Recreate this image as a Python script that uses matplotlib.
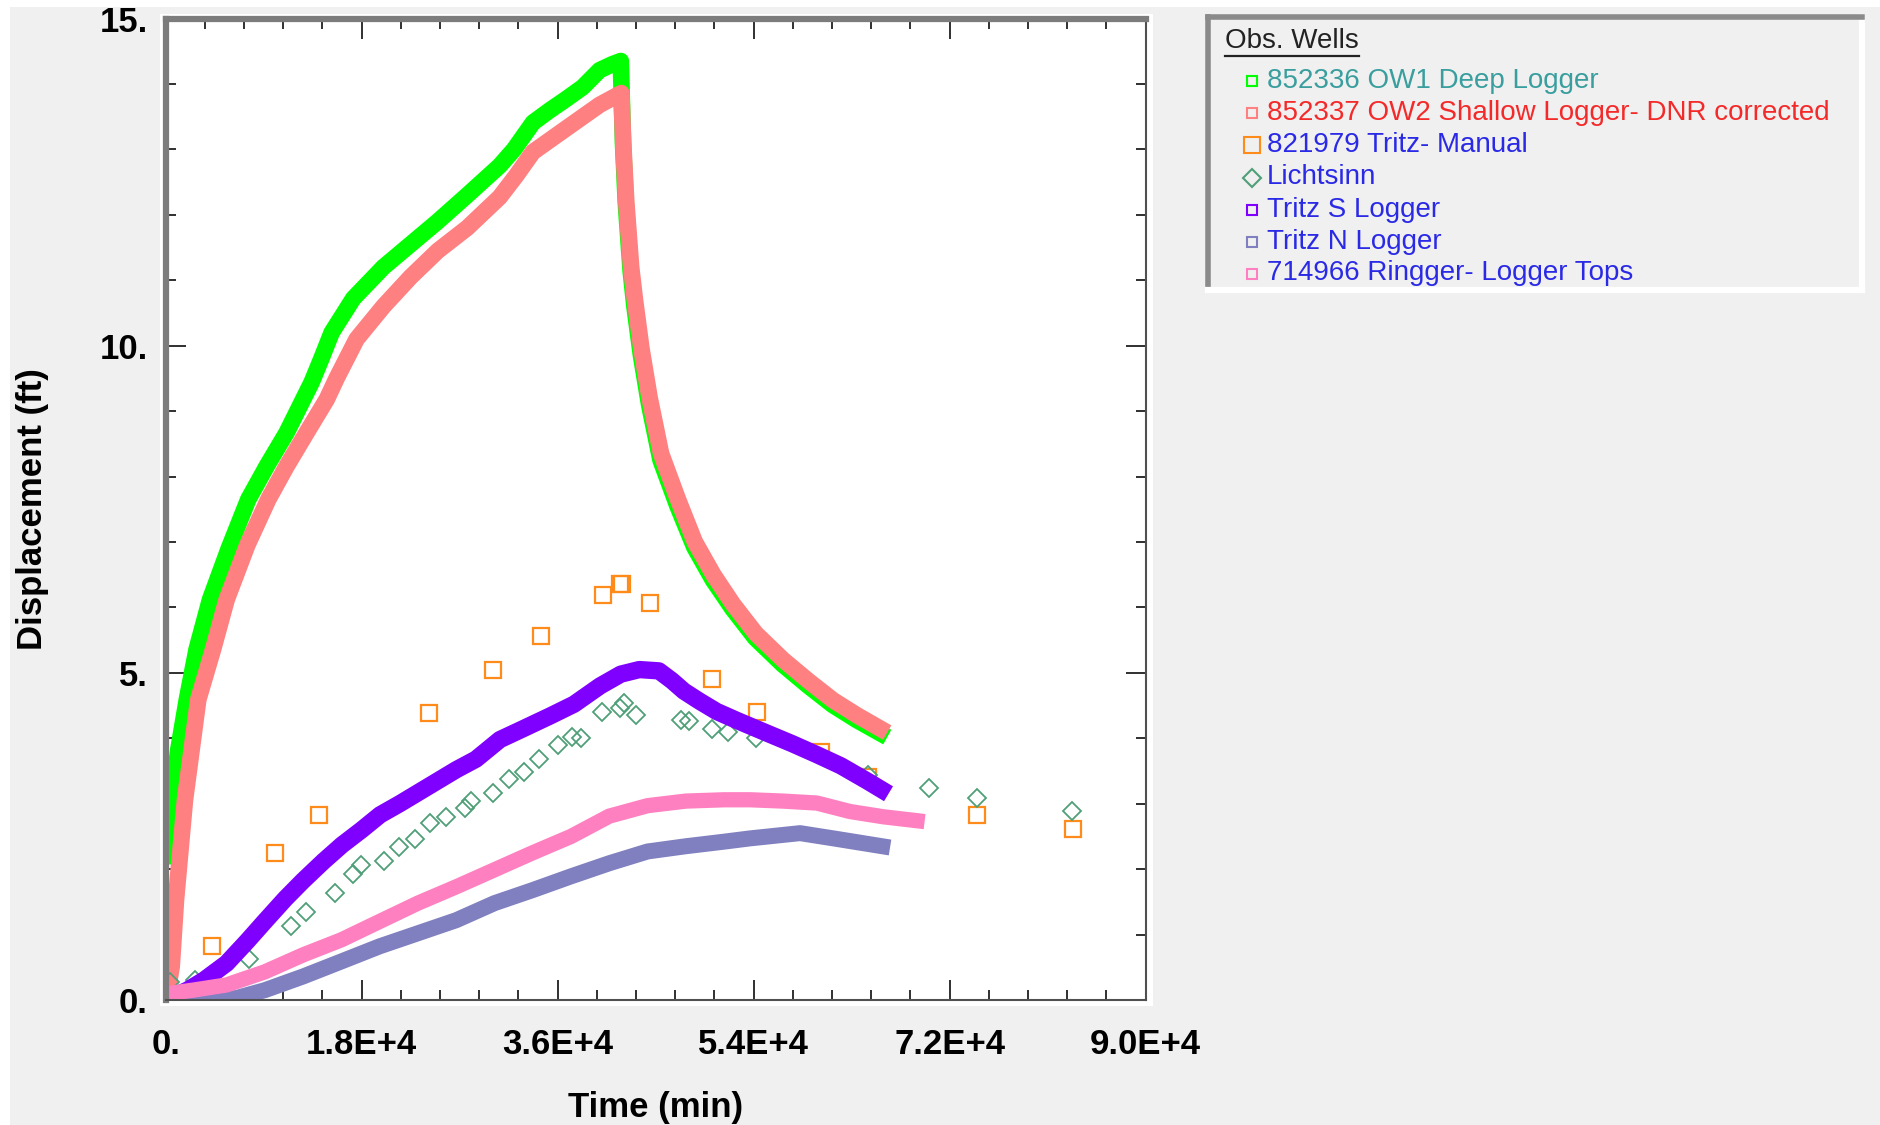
import matplotlib
matplotlib.use("Agg")
import matplotlib.pyplot as plt
from matplotlib.patches import Rectangle
from matplotlib.ticker import MultipleLocator

# ---- values (time in min, displacement in ft) ----
ow1_t = [80, 160, 560, 1170, 1960, 2850, 4080, 5800, 7590, 9290, 11110, 13410, 14300,
         15250, 17230, 20000, 22500, 25000, 27700, 30680, 32000, 33740, 35300, 36790,
         38300, 39850, 41000, 41800, 42000, 42250, 42700, 43050, 43650, 44400, 45450,
         47000, 48550, 50250, 52050, 54150, 56650, 58950, 61250, 63450, 65600]
ow1_y = [2.2, 2.6, 3.06, 3.83, 4.6, 5.36, 6.12, 6.9, 7.65, 8.16, 8.67, 9.44, 9.8,
         10.2, 10.72, 11.2, 11.55, 11.9, 12.3, 12.75, 13.0, 13.41, 13.6, 13.77,
         13.95, 14.21, 14.3, 14.35, 13.1, 12.2, 11.15, 10.6, 9.85, 9.1, 8.25,
         7.55, 6.92, 6.42, 5.98, 5.53, 5.13, 4.81, 4.51, 4.28, 4.08]

ow2_t = [100, 300, 560, 955, 1780, 3000, 4360, 5610, 7500, 9430, 11120, 12950, 14800,
         15700, 17540, 20000, 22500, 25000, 27700, 30680, 32200, 33740, 36790, 39850,
         41850, 42050, 42300, 42750, 43100, 43700, 44450, 45500, 47050, 48600, 50300,
         52100, 54200, 56700, 59000, 61300, 63500, 65600]
ow2_y = [0.05, 0.25, 0.51, 1.53, 3.06, 4.59, 5.36, 6.12, 6.95, 7.65, 8.16, 8.67, 9.18,
         9.5, 10.1, 10.6, 11.05, 11.45, 11.8, 12.27, 12.6, 12.96, 13.32, 13.68,
         13.86, 13.0, 12.2, 11.2, 10.7, 9.95, 9.2, 8.35, 7.65, 7.0, 6.5,
         6.05, 5.6, 5.2, 4.88, 4.58, 4.35, 4.15]

manual_t = [4290, 10020, 14090, 24220, 30060, 34460, 40180, 41720, 41940, 44480,
            50200, 54300, 60220, 64480, 74500, 83300]
manual_y = [0.83, 2.24, 2.83, 4.39, 5.04, 5.57, 6.19, 6.36, 6.36, 6.07,
            4.91, 4.40, 3.79, 3.41, 2.83, 2.61]

licht_t = [396, 2680, 7700, 11480, 12890, 15600, 17170, 17980, 20060, 21450, 22900,
           24300, 25780, 27470, 28060, 30030, 31570, 32900, 34310, 36060, 37360, 38170,
           40070, 41750, 42100, 43230, 47370, 48080, 50180, 51650, 54230, 64470,
           70130, 74500, 83270]
licht_y = [0.28, 0.31, 0.63, 1.13, 1.35, 1.64, 1.92, 2.07, 2.13, 2.34, 2.46,
           2.71, 2.80, 2.94, 3.04, 3.17, 3.38, 3.48, 3.69, 3.90, 4.02, 4.01,
           4.40, 4.46, 4.54, 4.36, 4.28, 4.27, 4.14, 4.09, 4.00, 3.44,
           3.24, 3.09, 2.89]

tritz_s_t = [700, 2000, 3500, 5600, 7500, 9100, 11000, 12600, 14500, 16200, 18000, 19700,
             21500, 23200, 25000, 26700, 28500, 30700, 32500, 35300, 37500, 39900, 41800,
             43500, 45300, 46500, 47600, 49000, 50600, 52500, 55200, 57500, 59800, 62000,
             64400, 65700]
tritz_s_y = [0.05, 0.15, 0.3, 0.56, 0.9, 1.2, 1.55, 1.82, 2.12, 2.37, 2.6, 2.83,
             3.0, 3.17, 3.35, 3.52, 3.68, 3.98, 4.12, 4.34, 4.52, 4.8, 4.98,
             5.05, 5.03, 4.88, 4.72, 4.57, 4.41, 4.27, 4.08, 3.92, 3.75, 3.58,
             3.35, 3.22]

tritz_n_t = [0, 3000, 6500, 9110, 12630, 16150, 19650, 23170, 26690, 30200, 33710,
             37230, 40740, 44260, 47780, 51290, 53670, 58260, 61320, 65800]
tritz_n_y = [0.0, 0.0, 0.03, 0.15, 0.36, 0.59, 0.82, 1.02, 1.22, 1.48, 1.68,
             1.89, 2.09, 2.27, 2.35, 2.42, 2.47, 2.55, 2.47, 2.35]

ringger_t = [0, 320, 2500, 5590, 9110, 12630, 16150, 19650, 23170, 26690, 30200, 33710,
             37230, 40740, 44260, 47780, 51290, 53670, 56700, 59800, 62860, 65910, 69000]
ringger_y = [0.0, 0.1, 0.15, 0.23, 0.43, 0.69, 0.92, 1.20, 1.48, 1.73, 1.99, 2.25,
             2.50, 2.81, 2.97, 3.04, 3.06, 3.06, 3.04, 3.01, 2.88, 2.80, 2.74]

legend_labels = ['852336 OW1 Deep Logger', '852337 OW2 Shallow Logger- DNR corrected',
                 '821979 Tritz- Manual', 'Lichtsinn', 'Tritz S Logger', 'Tritz N Logger',
                 '714966 Ringger- Logger Tops']
label_colors = ['#3a9e9e', '#f42a2a', '#2a2ae6', '#2a2ae6', '#2a2ae6', '#2a2ae6', '#2a2ae6']
series_colors = ['#00ff00', '#ff8080', '#ff8c1a', '#4f9f78', '#8000ff', '#8080c0', '#ff80c0']

xticks = [0, 18000, 36000, 54000, 72000, 90000]
xticklabels = ['0.', '1.8E+4', '3.6E+4', '5.4E+4', '7.2E+4', '9.0E+4']
yticks = [0, 5, 10, 15]
yticklabels = ['0.', '5.', '10.', '15.']

plt.rcParams['font.family'] = ['Liberation Sans', 'DejaVu Sans']

W, H = 1881, 1125
fig = plt.figure(figsize=(W / 100, H / 100), dpi=100, facecolor='#f0f0f0')


def fx(px):
    return px / W


def fy(py):
    return 1 - py / H


# white strips along the top/left edge and the bevel round the plot panel
for x0, y0, w, h in [(0, fy(7), 1, 7 / H),
                     (0, 0, fx(10), 1),
                     (fx(160), fy(1006), fx(1153 - 160), (1006 - 14) / H)]:
    fig.patches.append(Rectangle((x0, y0), w, h, transform=fig.transFigure,
                                 facecolor='white', edgecolor='none', zorder=-5))

ax = fig.add_axes([fx(165.6), fy(1000), fx(1145.7 - 165.6), (1000 - 18.5) / H])
ax.set_facecolor('white')

lw_kw = dict(solid_capstyle='projecting', solid_joinstyle='round')
ax.plot(ow1_t, ow1_y, color=series_colors[0], lw=12, **lw_kw)
ax.plot(ow2_t, ow2_y, color=series_colors[1], lw=12, **lw_kw)
ax.plot(manual_t, manual_y, ls='none', marker='s', ms=12, mfc='none',
        mec=series_colors[2], mew=1.6)
ax.plot(licht_t, licht_y, ls='none', marker='D', ms=9.5, mfc='none',
        mec=series_colors[3], mew=1.3)
ax.plot(tritz_s_t, tritz_s_y, color=series_colors[4], lw=12.5, **lw_kw)
ax.plot(tritz_n_t, tritz_n_y, color=series_colors[5], lw=11.5, **lw_kw)
ax.plot(ringger_t, ringger_y, color=series_colors[6], lw=11, **lw_kw)

ax.set_xlim(0, 90000)
ax.set_ylim(0, 15)
ax.set_xticks(xticks, xticklabels)
ax.set_yticks(yticks, yticklabels)
ax.xaxis.set_minor_locator(MultipleLocator(3600))
ax.yaxis.set_minor_locator(MultipleLocator(1))
ax.tick_params(which='both', direction='in', top=True, right=True, color='#303030',
               width=1.4)
ax.tick_params(which='major', length=14.5)
ax.tick_params(which='minor', length=7.2)
ax.tick_params(axis='x', which='major', pad=20)
ax.tick_params(axis='y', which='major', pad=13)
for lab in ax.get_xticklabels() + ax.get_yticklabels():
    lab.set_fontsize(25)
    lab.set_fontweight('bold')

for side in ['left', 'top']:
    ax.spines[side].set_color('#7c7c7c')
    ax.spines[side].set_linewidth(4.5)
for side in ['right', 'bottom']:
    ax.spines[side].set_color('#505050')
    ax.spines[side].set_linewidth(1.5)

fig.text(fx(655.6), fy(1108), 'Time (min)', ha='center', va='center',
         fontsize=25, fontweight='bold')
fig.text(fx(33), fy(509), 'Displacement (ft)', ha='center', va='center',
         rotation=90, fontsize=25, fontweight='bold')

# legend panel, drawn in pixel units
lax = fig.add_axes([fx(1208), fy(290), fx(1862 - 1208), (290 - 17) / H])
lax.set_xlim(1208, 1862)
lax.set_ylim(290, 17)
lax.set_facecolor('#f0f0f0')
lax.set_xticks([])
lax.set_yticks([])
for side in ['left', 'top']:
    lax.spines[side].set_color('#8a8a8a')
    lax.spines[side].set_linewidth(4)
for side in ['right', 'bottom']:
    lax.spines[side].set_color('white')
    lax.spines[side].set_linewidth(4.5)

title = lax.text(1225, 40.5, 'Obs. Wells', ha='left', va='center', fontsize=20,
                 color='#222222')

row_y = [80.5, 112.5, 145, 177.5, 210, 242.3, 273.5]
markers = ['s', 's', 's', 'D', 's', 's', 's']
msizes = [7.5, 7.5, 11, 9, 7.5, 7.5, 7.5]
for i, lab in enumerate(legend_labels):
    lax.plot([1251.6], [row_y[i]], ls='none', marker=markers[i], ms=msizes[i],
             mfc='none', mec=series_colors[i], mew=1.5)
    lax.text(1267, row_y[i], lab, ha='left', va='center', fontsize=20,
             color=label_colors[i])

# underline the legend title
fig.canvas.draw()
bb = title.get_window_extent().transformed(lax.transData.inverted())
lax.plot([bb.x0, bb.x1], [55.5, 55.5], color='#222222', lw=1.6)

fig.savefig('out.png', dpi=100, facecolor=fig.get_facecolor())
